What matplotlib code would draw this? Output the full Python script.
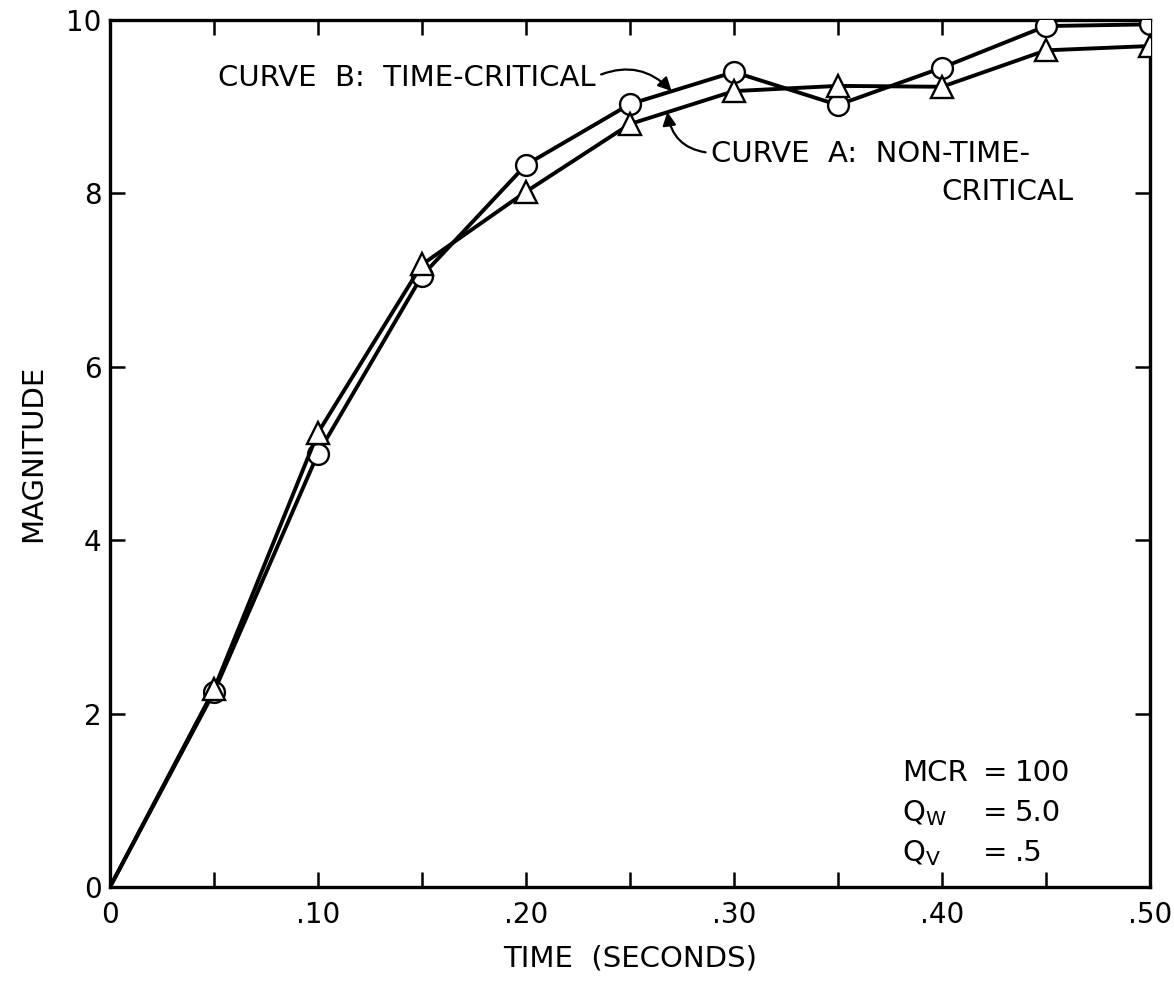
import matplotlib.pyplot as plt
import numpy as np

# time (s) and magnitudes
t = [0.0, 0.05, 0.10, 0.15, 0.20, 0.25, 0.30, 0.35, 0.40, 0.45, 0.50]
curve_b = [0.0, 2.25, 5.0, 7.05, 8.33, 9.03, 9.40, 9.02, 9.45, 9.93, 9.95]   # time-critical (circles)
curve_a = [0.0, 2.28, 5.24, 7.18, 8.02, 8.80, 9.18, 9.24, 9.23, 9.65, 9.70]  # non-time-critical (triangles)

x_ticks = [0.0, 0.05, 0.10, 0.15, 0.20, 0.25, 0.30, 0.35, 0.40, 0.45, 0.50]
x_labels = ["0", "", ".10", "", ".20", "", ".30", "", ".40", "", ".50"]
y_ticks = [0, 2, 4, 6, 8, 10]
y_labels = ["0", "2", "4", "6", "8", "10"]

plt.rcParams['font.family'] = ['DejaVu Sans']
FS = 21

fig = plt.figure(figsize=(11.74, 9.81), dpi=100)
ax = fig.add_axes([110 / 1174, 1 - 887 / 981, 1040 / 1174, 867 / 981])

# no marker at the origin
marks = list(range(1, len(t)))
ax.plot(t, curve_b, color='black', lw=2.8, marker='o', ms=15, mfc='white',
        mec='black', mew=1.7, markevery=marks, zorder=3)
ax.plot(t, curve_a, color='black', lw=2.8, marker='^', ms=16, mfc='white',
        mec='black', mew=1.7, markevery=marks, zorder=4)

ax.set_xlim(0, 0.5)
ax.set_ylim(0, 10)
ax.set_xticks(x_ticks)
ax.set_xticklabels(x_labels)
ax.set_yticks(y_ticks)
ax.set_yticklabels(y_labels)
ax.tick_params(direction='in', length=11, width=1.8, labelsize=20,
               top=True, right=True)
ax.tick_params(axis='x', pad=10)
ax.tick_params(axis='y', pad=6)
for s in ax.spines.values():
    s.set_linewidth(2.4)

ax.set_xlabel("TIME  (SECONDS)", fontsize=FS, labelpad=11)
ax.set_ylabel("MAGNITUDE", fontsize=FS, labelpad=14)

# curve labels with curved arrows
ax.annotate("CURVE  B:  TIME-CRITICAL", xy=(0.270, 9.18), xytext=(0.052, 9.33),
            textcoords='data', fontsize=FS, va='center', ha='left',
            arrowprops=dict(arrowstyle='-|>', color='black', lw=1.6,
                            mutation_scale=20, shrinkA=2, shrinkB=0,
                            connectionstyle='arc3,rad=-0.35',
                            relpos=(1.0, 0.55)))
ax.annotate("CURVE  A:  NON-TIME-", xy=(0.268, 8.94), xytext=(0.289, 8.45),
            textcoords='data', fontsize=FS, va='center', ha='left',
            arrowprops=dict(arrowstyle='-|>', color='black', lw=1.6,
                            mutation_scale=20, shrinkA=2, shrinkB=0,
                            connectionstyle='arc3,rad=-0.4',
                            relpos=(0.0, 0.55)))
ax.text(0.463, 8.02, "CRITICAL", fontsize=FS, va='center', ha='right')

# parameter block
rows = [("MCR", "100"), (r"Q$_\mathregular{W}$", "5.0"), (r"Q$_\mathregular{V}$", ".5")]
for i, (name, val) in enumerate(rows):
    y = 1.31 - i * 0.46
    ax.text(0.381, y, name, fontsize=FS, va='center', ha='left')
    ax.text(0.4255, y, "=", fontsize=FS, va='center', ha='center')
    ax.text(0.435, y, val, fontsize=FS, va='center', ha='left')

fig.savefig("out.png", dpi=100)
